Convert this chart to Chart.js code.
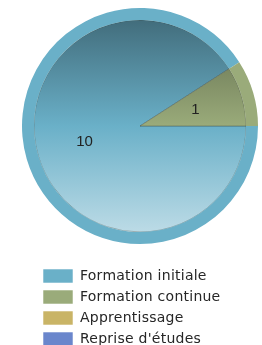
<!DOCTYPE html>
<html>
<head>
<meta charset="utf-8">
<script src="https://cdn.jsdelivr.net/npm/chart.js@4"></script>
<style>
  html, body { margin: 0; padding: 0; background: #fff; overflow: hidden; }
  canvas { display: block; }
</style>
</head>
<body>
<canvas id="pie" width="262" height="345"></canvas>
<script>
const labels = ["Formation initiale", "Formation continue", "Apprentissage", "Reprise d'études"];
const counts = [10, 1, 0, 0];
const colors = ["#6ab0c8", "#9aab7a", "#c9b466", "#6a86cc"];

// blend a hex colour toward black or white
function mix(hex, to, amt) {
  const n = parseInt(hex.slice(1), 16);
  const c = [n >> 16, (n >> 8) & 255, n & 255].map(v => Math.round(v + (to - v) * amt));
  return "rgb(" + c.join(",") + ")";
}

function shade(ctx) {
  const chart = ctx.chart;
  const area = chart.chartArea;
  const base = colors[ctx.dataIndex];
  if (!area) return base;
  const g = chart.ctx.createLinearGradient(0, area.top + 12, 0, area.bottom - 12);
  g.addColorStop(0, mix(base, 0, 0.38));
  g.addColorStop(0.5, base);
  g.addColorStop(1, mix(base, 255, 0.55));
  return g;
}

const baseLabels = Chart.overrides.doughnut.plugins.legend.labels.generateLabels;

const valueLabels = {
  id: "valueLabels",
  beforeDraw(chart) {
    chart.ctx.letterSpacing = "0.25px";
  },
  afterDatasetsDraw(chart) {
    const meta = chart.getDatasetMeta(1);
    const outer = chart.getDatasetMeta(0);
    const ctx = chart.ctx;
    ctx.save();
    ctx.letterSpacing = "0px";
    ctx.font = '15px "Liberation Sans", Arial, sans-serif';
    ctx.fillStyle = "#222";
    ctx.textAlign = "center";
    ctx.textBaseline = "middle";
    meta.data.forEach((arc, i) => {
      if (!counts[i]) return;
      const p = arc.getProps(["x", "y", "startAngle", "endAngle"], true);
      const mid = (p.startAngle + p.endAngle) / 2;
      const r = outer.data[i].outerRadius * 0.49;
      ctx.fillText(String(counts[i]), p.x + Math.cos(mid) * r, p.y + Math.sin(mid) * r);
    });
    ctx.restore();
  }
};

// push the legend column right and down
const legendShift = {
  id: "legendShift",
  afterLayout(chart) {
    const lg = chart.legend;
    lg.left += 18; lg.right += 18;
    lg.top += 18; lg.bottom += 18;
  }
};

new Chart(document.getElementById("pie"), {
  type: "pie",
  data: {
    labels: labels,
    datasets: [
      { data: counts, backgroundColor: colors, borderWidth: 0, weight: 12 },
      { data: counts, backgroundColor: shade, borderWidth: 1, borderColor: "rgba(60,70,60,0.35)", weight: 106 }
    ]
  },
  options: {
    responsive: false,
    animation: false,
    rotation: 90,
    layout: { padding: { top: 8, left: 18, right: 0, bottom: 7 } },
    plugins: {
      tooltip: { enabled: false },
      legend: {
        position: "bottom",
        align: "start",
        labels: {
          boxWidth: 30,
          boxHeight: 14,
          padding: 7,
          color: "#262626",
          font: { family: '"DejaVu Sans", Verdana, sans-serif', size: 14 },
          generateLabels(chart) {
            return baseLabels(chart).map(item => {
              item.strokeStyle = "rgba(255,255,255,0.55)";
              item.lineWidth = 1;
              return item;
            });
          }
        }
      }
    }
  },
  plugins: [valueLabels, legendShift]
});
</script>
</body>
</html>
